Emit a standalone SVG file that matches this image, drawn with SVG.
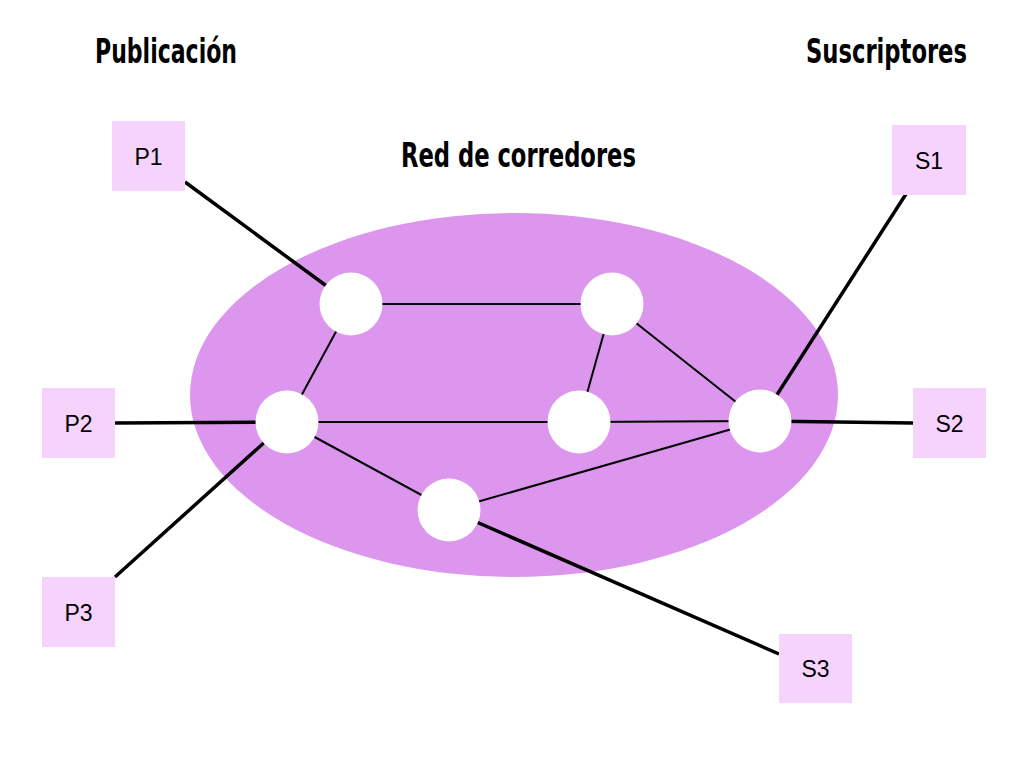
<svg xmlns="http://www.w3.org/2000/svg" width="1024" height="768" viewBox="0 0 1024 768">
  <style>
    .title { font-family: "Liberation Sans Narrow", "DejaVu Sans Condensed", "Liberation Sans", sans-serif; font-weight: bold; font-size: 34px; fill: #000; }
    .box { fill: #f5d3fd; }
    .lbl { font-family: "Liberation Sans", Arial, sans-serif; font-size: 23px; fill: #000; text-anchor: middle; }
    .thick { stroke: #000; stroke-width: 3.5; fill: none; }
    .thin { stroke: #000; stroke-width: 2; fill: none; }
    .broker { fill: #fff; }
  </style>
  <rect width="1024" height="768" fill="#fff"/>
  <text class="title" x="95" y="63" textLength="142" lengthAdjust="spacingAndGlyphs">Publicación</text>
  <text class="title" x="806" y="63" textLength="161" lengthAdjust="spacingAndGlyphs">Suscriptores</text>
  <text class="title" x="401" y="167" textLength="235" lengthAdjust="spacingAndGlyphs">Red de corredores</text>

  <ellipse id="network" cx="514" cy="395" rx="324" ry="182" fill="#dc96ee"/>

  <g id="connectors">
    <line class="thick" x1="185" y1="182" x2="351" y2="304"/>
    <line class="thick" x1="115" y1="423" x2="287" y2="422"/>
    <line class="thick" x1="115" y1="577" x2="287" y2="422"/>
    <line class="thick" x1="906" y1="194" x2="760" y2="421"/>
    <line class="thick" x1="913" y1="423" x2="760" y2="421"/>
    <line class="thick" x1="779" y1="654" x2="449" y2="510"/>
    <line class="thin" x1="351" y1="304" x2="612" y2="304"/>
    <line class="thin" x1="351" y1="304" x2="287" y2="422"/>
    <line class="thin" x1="612" y1="304" x2="579" y2="422"/>
    <line class="thin" x1="612" y1="304" x2="760" y2="421"/>
    <line class="thin" x1="287" y1="422" x2="579" y2="422"/>
    <line class="thin" x1="579" y1="422" x2="760" y2="421"/>
    <line class="thin" x1="287" y1="422" x2="449" y2="510"/>
    <line class="thin" x1="449" y1="510" x2="760" y2="421"/>
  </g>

  <g id="broker1"><circle class="broker" cx="351" cy="304" r="31.5"/></g>
  <g id="broker2"><circle class="broker" cx="612" cy="304" r="31.5"/></g>
  <g id="broker3"><circle class="broker" cx="287" cy="422" r="31.5"/></g>
  <g id="broker4"><circle class="broker" cx="579" cy="422" r="31.5"/></g>
  <g id="broker5"><circle class="broker" cx="760" cy="421" r="31.5"/></g>
  <g id="broker6"><circle class="broker" cx="449" cy="510" r="31.5"/></g>

  <g id="P1"><rect class="box" x="112" y="121" width="73" height="70"/><text class="lbl" x="148.5" y="164.5">P1</text></g>
  <g id="P2"><rect class="box" x="42" y="388" width="73" height="70"/><text class="lbl" x="78.5" y="431.5">P2</text></g>
  <g id="P3"><rect class="box" x="42" y="577" width="73" height="70"/><text class="lbl" x="78.5" y="620.5">P3</text></g>
  <g id="S1"><rect class="box" x="892" y="125" width="74" height="70"/><text class="lbl" x="929" y="168.5">S1</text></g>
  <g id="S2"><rect class="box" x="913" y="388" width="73" height="70"/><text class="lbl" x="949.5" y="431.5">S2</text></g>
  <g id="S3"><rect class="box" x="779" y="634" width="73" height="69"/><text class="lbl" x="815.5" y="677">S3</text></g>
</svg>
